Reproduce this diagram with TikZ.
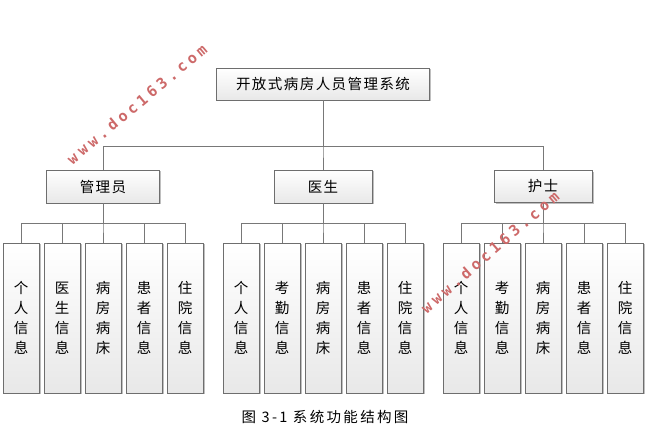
\documentclass[tikz,border=0pt]{standalone}
\usepackage{fontspec}
\newfontfamily\cjk[LetterSpace=10]{Noto Sans CJK SC}
\newfontfamily\wmfont[LetterSpace=26]{DejaVu Sans Mono Bold}
\usetikzlibrary{shadows}
\definecolor{boxline}{RGB}{110,110,110}
\definecolor{linegray}{RGB}{120,120,120}
\definecolor{wmred}{RGB}{205,105,105}
\begin{document}
\begin{tikzpicture}[x=1pt, y=-1pt,
		box/.style={draw=boxline, line width=0.8pt, top color=white, bottom color=gray!18, drop shadow={shadow xshift=1.5pt, shadow yshift=-1.5pt, fill=black, opacity=0.25}, inner sep=0pt, font=\cjk\fontsize{14.5}{20}\selectfont},
		leaf/.style={box, minimum width=36pt, minimum height=150pt, align=center},
		link/.style={draw=linegray, line width=0.8pt},
		wm/.style={text=wmred, font=\wmfont\fontsize{15}{17}\selectfont}]
	% 1. 画布
	\fill[white] (0,0) rectangle (649,430);
	\useasboundingbox (0,0) rectangle (649,430);
	
	% 2. 顶层与角色
	\node[box, minimum width=213pt, minimum height=32pt] (sys) at (323,84) {开放式病房人员管理系统};
	\node[box, minimum width=113pt, minimum height=33pt] (admin) at (103,186.5) {管理员};
	\node[box, minimum width=98pt, minimum height=33pt] (doctor) at (323,186.5) {医生};
	\node[box, minimum width=98pt, minimum height=32pt] (nurse) at (543,186.5) {护士};
	
	% 3. 功能模块
	\foreach \t [count=\i] in {个\\人\\信\\息, 医\\生\\信\\息, 病\\房\\病\\床, 患\\者\\信\\息, 住\\院\\信\\息}
		\node[leaf] (a\i) at ({103+(\i-3)*41}, 318) {\t};
	\foreach \t [count=\i] in {个\\人\\信\\息, 考\\勤\\信\\息, 病\\房\\病\\床, 患\\者\\信\\息, 住\\院\\信\\息}
		\node[leaf] (d\i) at ({323+(\i-3)*41}, 318) {\t};
	\foreach \t [count=\i] in {个\\人\\信\\息, 考\\勤\\信\\息, 病\\房\\病\\床, 患\\者\\信\\息, 住\\院\\信\\息}
		\node[leaf] (n\i) at ({543+(\i-3)*41}, 318) {\t};
	
	% 4. 连线
	\coordinate (topbus) at (323,146);
	\coordinate (abus) at (103,223);
	\coordinate (dbus) at (323,223);
	\coordinate (nbus) at (543,223);
	\foreach \c in {admin, doctor, nurse}
		\draw[link] (sys.south) -- (topbus) -| (\c.north);
	\foreach \i in {1,...,5} {
		\draw[link] (admin.south) -- (abus) -| (a\i.north);
		\draw[link] (doctor.south) -- (dbus) -| (d\i.north);
		\draw[link] (nurse.south) -- (nbus) -| (n\i.north);
	}
	
	% 5. 图题与水印
	\node[font=\cjk\addfontfeature{LetterSpace=16}\fontsize{14.5}{17}\selectfont] (caption) at (325,417) {图 3-1 系统功能结构图};
	\node[wm, rotate=40] (wm1) at (137,104) {www.doc163.com};
	\node[wm, rotate=41] (wm2) at (490,252) {www.doc163.com};
\end{tikzpicture}
\end{document}
